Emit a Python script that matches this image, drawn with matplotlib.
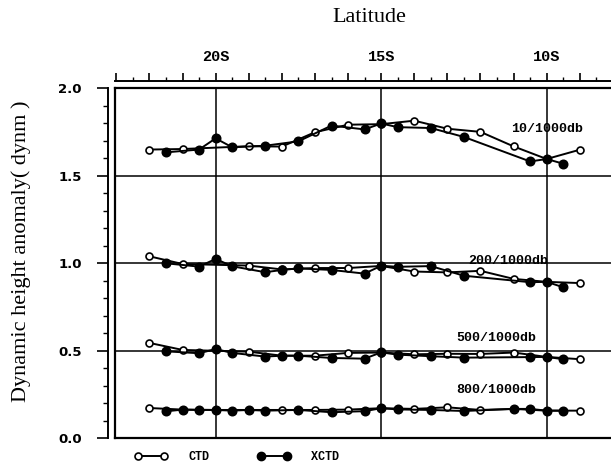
import numpy as np
import matplotlib
matplotlib.use("Agg")
import matplotlib.pyplot as plt
from matplotlib.lines import Line2D
from matplotlib.ticker import FixedLocator, MultipleLocator, FuncFormatter

nan = np.nan

# station latitudes (degrees S)
lat_ctd = [22, 21, 20, 19, 18, 17, 16, 15, 14, 13, 12, 11, 10, 9]
lat_xctd = [21.5, 21, 20.5, 20, 19.5, 19, 18.5, 18, 17.5, 17, 16.5, 16, 15.5,
            15, 14.5, 14, 13.5, 13, 12.5, 12, 11.5, 11, 10.5, 10, 9.5]

# dynamic height anomaly (dynm), CTD
ctd_10 = [1.650, 1.653, nan, 1.669, 1.667, 1.749, 1.792, 1.795, 1.815, 1.769, 1.751, 1.668, 1.596, 1.649]
ctd_200 = [1.040, 0.996, nan, 0.987, 0.965, 0.973, 0.973, 0.985, 0.953, 0.948, 0.957, 0.911, 0.894, 0.887]
ctd_500 = [0.545, 0.505, nan, 0.495, 0.472, 0.472, 0.488, 0.490, 0.480, 0.483, 0.482, 0.490, 0.465, 0.452]
ctd_800 = [0.173, 0.164, 0.162, 0.162, 0.162, 0.162, 0.164, 0.172, 0.168, 0.177, 0.162, 0.168, 0.158, 0.158]

# XCTD
xctd_10 = [1.634, nan, 1.650, 1.714, 1.663, nan, 1.672, nan, 1.697, nan, 1.787, nan, 1.765,
           1.799, 1.778, nan, 1.773, nan, 1.722, nan, nan, nan, 1.582, 1.596, 1.569]
xctd_200 = [1.000, nan, 0.981, 1.025, 0.983, nan, 0.949, 0.962, 0.971, nan, 0.962, nan, 0.941,
            0.986, 0.980, nan, 0.984, nan, 0.929, nan, nan, nan, 0.892, 0.894, 0.863]
xctd_500 = [0.497, nan, 0.486, 0.510, 0.488, nan, 0.467, 0.472, 0.472, nan, 0.459, nan, 0.455,
            0.491, 0.478, nan, 0.469, nan, 0.461, nan, nan, nan, 0.464, 0.465, 0.452]
xctd_800 = [0.154, 0.164, 0.162, 0.162, 0.158, 0.162, 0.158, nan, 0.162, nan, 0.149, nan, 0.155,
            0.172, 0.165, nan, 0.162, nan, 0.156, nan, nan, 0.168, 0.168, 0.158, 0.158]

levels = ["10/1000db", "200/1000db", "500/1000db", "800/1000db"]
label_pos = [(10.0, 1.767), (11.17, 1.012), (11.53, 0.574), (11.53, 0.277)]

serif = "Liberation Serif"
mono = "Liberation Mono"

fig = plt.figure(figsize=(6.11, 4.63), dpi=100)
ax = fig.add_axes([115 / 611, 24.7 / 463, 496 / 611, 350 / 463])
ax.set_xlim(23.04, 8.057)
ax.set_ylim(0, 2.0)

# frame and grid
for side in ["left", "top", "bottom"]:
    ax.spines[side].set_linewidth(1.6)
ax.spines["right"].set_visible(False)
ax.set_xticks([20, 15, 10])
ax.set_yticks([0.5, 1.0, 1.5])
ax.tick_params(length=0, labelleft=False, labelbottom=False)
ax.grid(True, color="black", linewidth=1.1)


def plot_series(lats, vals, filled, z):
    lats = np.array(lats, dtype=float)
    vals = np.array(vals, dtype=float)
    ok = ~np.isnan(vals)
    ax.plot(lats[ok], vals[ok], color="black", linewidth=1.4,
            marker="o", markersize=6 if filled else 5,
            markerfacecolor="black" if filled else "white",
            markeredgecolor="black", markeredgewidth=1.2, zorder=z,
            clip_on=False)


for c in [ctd_10, ctd_200, ctd_500, ctd_800]:
    plot_series(lat_ctd, c, False, 3)
for x in [xctd_10, xctd_200, xctd_500, xctd_800]:
    plot_series(lat_xctd, x, True, 4)

for name, (lx, ly) in zip(levels, label_pos):
    ax.text(lx, ly, name, ha="center", va="center", fontsize=9.5,
            fontfamily=mono, fontweight="bold", zorder=2)

# offset left axis with ticks
sy = ax.secondary_yaxis(-7 / 496)
sy.spines["left"].set_linewidth(1.4)
sy.yaxis.set_major_locator(FixedLocator([0, 0.5, 1.0, 1.5, 2.0]))
sy.yaxis.set_minor_locator(MultipleLocator(0.1))
sy.yaxis.set_major_formatter(FuncFormatter(lambda v, p: f"{v:.1f}"))
sy.tick_params(which="major", length=8, width=1.2, pad=11, labelsize=9.5)
sy.tick_params(which="minor", length=3.6, width=1.0)
for t in sy.get_yticklabels():
    t.set_fontweight("bold")

# offset top axis (latitude)
sx = ax.secondary_xaxis(1 + 7.6 / 350)
sx.spines["top"].set_linewidth(1.4)
sx.xaxis.set_major_locator(MultipleLocator(1))
sx.xaxis.set_minor_locator(MultipleLocator(0.5))
sx.xaxis.set_major_formatter(FuncFormatter(
    lambda v, p: f"{int(round(v))}S" if round(v) % 5 == 0 else ""))
sx.tick_params(which="major", length=6, width=1.2, pad=6, labelsize=11)
sx.tick_params(which="minor", length=3, width=1.0)
for t in sx.get_xticklabels():
    t.set_fontfamily(mono)
    t.set_fontweight("bold")

fig.text(369 / 611, 1 - 17 / 463, "Latitude", ha="center", va="center",
         fontsize=16, fontfamily=serif)
fig.text(21 / 611, 1 - 251 / 463, "Dynamic height anomaly( dynm )", ha="center",
         va="center", rotation=90, fontsize=16, fontfamily=serif)

# legend
handles = [
    Line2D([], [], color="black", linewidth=1.4, marker="o", markersize=5,
           markerfacecolor="white", markeredgecolor="black", markeredgewidth=1.2),
    Line2D([], [], color="black", linewidth=1.4, marker="o", markersize=6,
           markerfacecolor="black", markeredgecolor="black"),
]
leg = ax.legend(handles, ["CTD", "XCTD"], ncol=2, numpoints=2, frameon=False,
                handlelength=2.8, handletextpad=1.8, columnspacing=4.0,
                loc="center left", bbox_to_anchor=(124 / 611, 1 - 457 / 463),
                bbox_transform=fig.transFigure,
                prop={"family": mono, "weight": "bold", "size": 8.5})

fig.savefig("out.png", dpi=100)
